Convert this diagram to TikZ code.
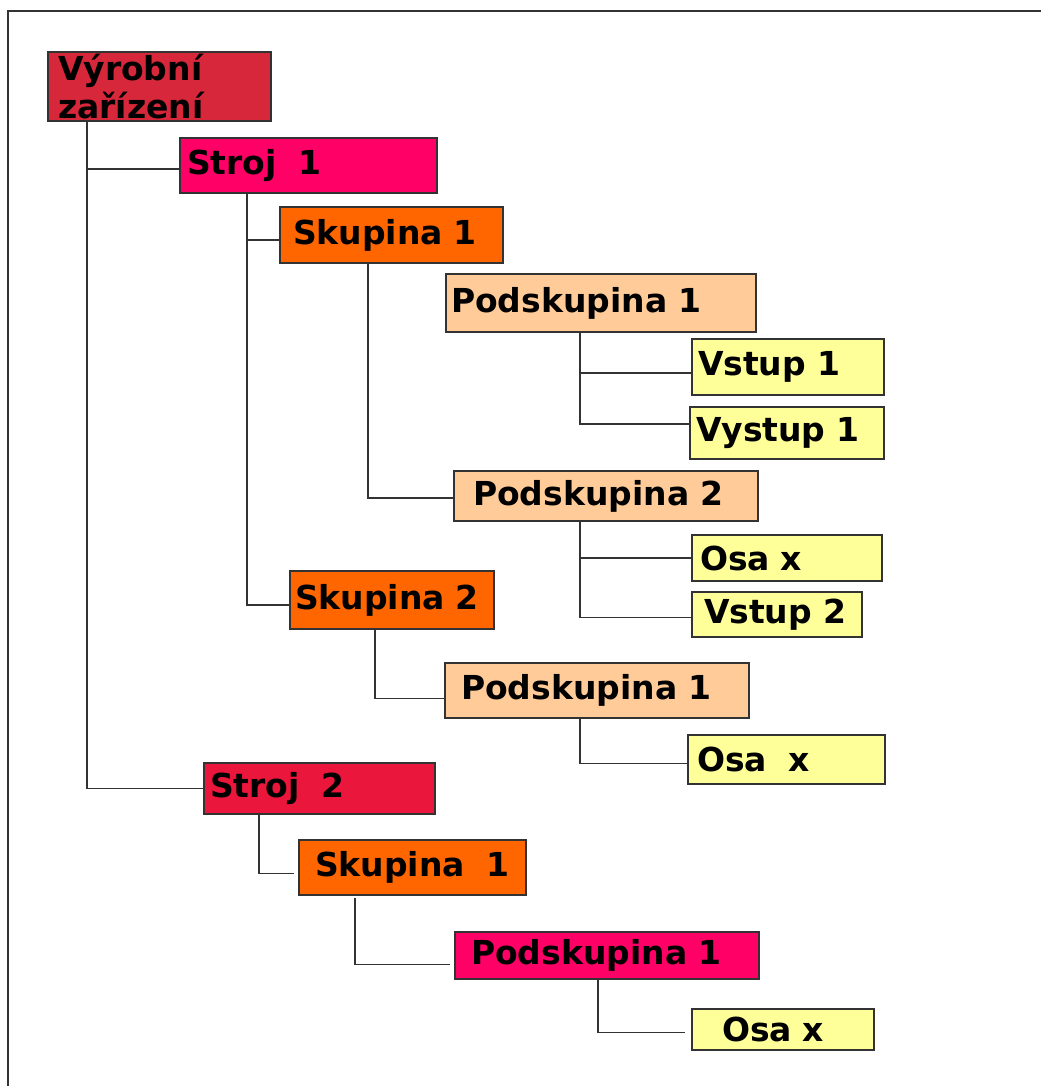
\documentclass[tikz,border=0pt]{standalone}
\usepackage{fontspec}
\usepackage{tikz}
\usetikzlibrary{arrows,positioning}
\newfontfamily\boxfont{DejaVu Sans}
\definecolor{edge}{RGB}{51,51,51}
\definecolor{vyrcol}{RGB}{214,40,58}
\definecolor{strojcol}{RGB}{255,0,102}
\definecolor{strojbcol}{RGB}{234,22,60}
\definecolor{skupcol}{RGB}{255,102,0}
\definecolor{podcol}{RGB}{255,204,153}
\definecolor{vstcol}{RGB}{255,255,153}
\tikzstyle{block} = [rectangle, draw=edge, line width=1.5pt, anchor=north west,
    align=left, inner ysep=0pt, outer sep=0pt,
    font=\boxfont\bfseries\fontsize{33}{38}\selectfont]
\tikzstyle{line} = [draw=edge, line width=1.7pt]

\begin{document}
\begin{tikzpicture}[x=1pt,y=-1pt]
        \useasboundingbox (0,0) rectangle (1041,1086);
        % Frame
        \draw[line] (8,1086) |- (1041,11);
        % Place nodes
        \node [block, fill=vyrcol, minimum width=223pt, minimum height=69pt, inner xsep=10pt, text width=203pt] (vyrobni) at (48,52) {Výrobní\\zařízení};
        \node [block, fill=strojcol, minimum width=257pt, minimum height=55pt, inner xsep=7pt, text width=243pt] (stroj1) at (180,138) {Stroj~~1};
        \node [block, fill=skupcol, minimum width=223pt, minimum height=56pt, inner xsep=13pt, text width=197pt] (skup1) at (280,207) {Skupina~1};
        \node [block, fill=podcol, minimum width=310pt, minimum height=58pt, inner xsep=5pt, text width=300pt] (podsk1) at (446,274) {Podskupina~1};
        \node [block, fill=vstcol, minimum width=192pt, minimum height=56pt, inner xsep=6pt, text width=180pt] (vstup1) at (692,339) {Vstup~1};
        \node [block, fill=vstcol, minimum width=194pt, minimum height=52pt, inner xsep=6pt, text width=182pt] (vystup1) at (690,407) {Vystup~1};
        \node [block, fill=podcol, minimum width=304pt, minimum height=50pt, inner xsep=19pt, text width=266pt] (podsk2) at (454,471) {Podskupina~2};
        \node [block, fill=vstcol, minimum width=190pt, minimum height=46pt, inner xsep=8pt, text width=174pt] (osa1) at (692,535) {Osa~x};
        \node [block, fill=vstcol, minimum width=170pt, minimum height=45pt, inner xsep=12pt, text width=146pt] (vstup2) at (692,592) {Vstup~2};
        \node [block, fill=skupcol, minimum width=204pt, minimum height=58pt, inner xsep=5pt, text width=194pt] (skup2) at (290,571) {Skupina~2};
        \node [block, fill=podcol, minimum width=304pt, minimum height=55pt, inner xsep=16pt, text width=272pt] (podsk3) at (445,663) {Podskupina~1};
        \node [block, fill=vstcol, minimum width=197pt, minimum height=49pt, inner xsep=9pt, text width=179pt] (osa2) at (688,735) {Osa~~x};
        \node [block, fill=strojbcol, minimum width=231pt, minimum height=51pt, inner xsep=6pt, text width=219pt] (stroj2) at (204,763) {Stroj~~2};
        \node [block, fill=skupcol, minimum width=227pt, minimum height=55pt, inner xsep=16pt, text width=195pt] (skup3) at (299,840) {Skupina~~1};
        \node [block, fill=strojcol, minimum width=304pt, minimum height=47pt, inner xsep=16pt, text width=272pt] (podsk4) at (455,932) {Podskupina~1};
        \node [block, fill=vstcol, minimum width=182pt, minimum height=41pt, inner xsep=30pt, text width=122pt] (osa3) at (692,1009) {Osa~x};
        % Draw edges
        \path [line] ([xshift=39pt]vyrobni.south west) |- ([yshift=-3.5pt]stroj1.west);
        \path [line] ([xshift=39pt]vyrobni.south west) |- (stroj2.west);
        \path [line] ([xshift=67pt]stroj1.south west) |- ([yshift=-5pt]skup1.west);
        \path [line] ([xshift=67pt]stroj1.south west) |- ([yshift=-5pt]skup2.west);
        \path [line] ([xshift=88pt]skup1.south west) |- ([yshift=-2pt]podsk2.west);
        \path [line] ([xshift=134pt]podsk1.south west) |- ([yshift=-6pt]vstup1.west);
        \path [line] ([xshift=134pt]podsk1.south west) |- ([yshift=9pt]vystup1.west);
        \path [line] ([xshift=126pt]podsk2.south west) |- (osa1.west);
        \path [line] ([xshift=126pt]podsk2.south west) |- ([yshift=-3pt]vstup2.west);
        \path [line] ([xshift=85pt]skup2.south west) |- ([yshift=-8pt]podsk3.west);
        \path [line] ([xshift=135pt]podsk3.south west) |- ([yshift=-4pt]osa2.west);
        \path [line, shorten >=5pt] ([xshift=55pt]stroj2.south west) |- ([yshift=-6pt]skup3.west);
        \path [line, shorten >=5pt] ([xshift=56pt,yshift=-3pt]skup3.south west) |- ([yshift=-9pt]podsk4.west);
        \path [line, shorten >=7pt] ([xshift=143pt]podsk4.south west) |- ([yshift=-3pt]osa3.west);
\end{tikzpicture}
\end{document}
